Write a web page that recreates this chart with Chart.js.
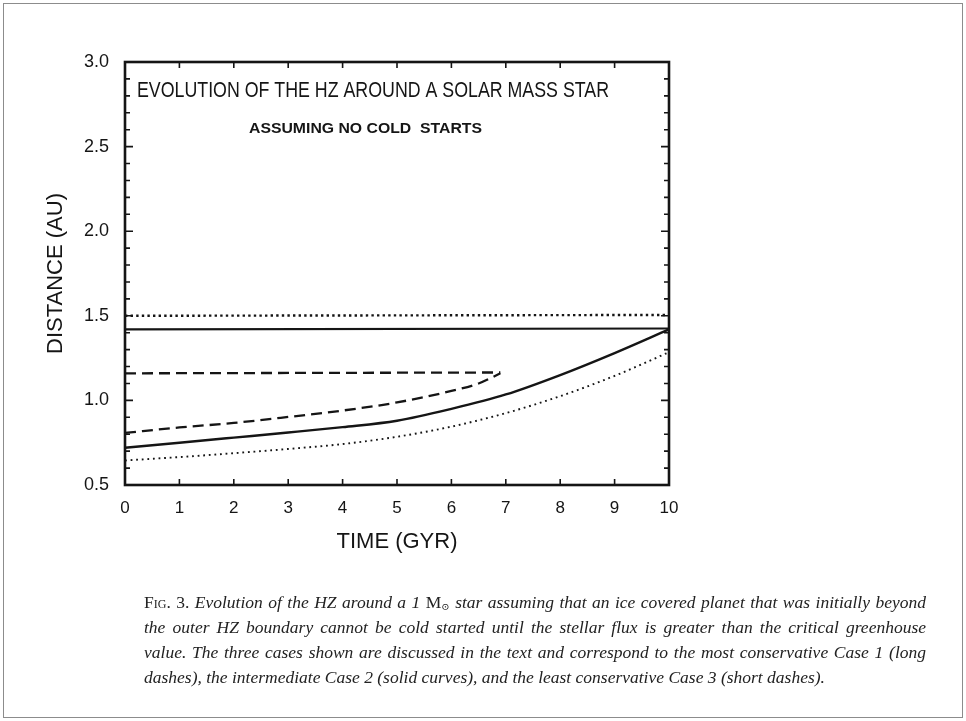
<!DOCTYPE html>
<html>
<head>
<meta charset="utf-8">
<script src="https://cdn.jsdelivr.net/npm/chart.js@4/dist/chart.umd.min.js"></script>
<style>
  html, body { margin: 0; padding: 0; background: #fff; }
  #wrap { position: relative; width: 966px; height: 721px; overflow: hidden; background: #fff; }
  #frame { position: absolute; left: 3px; top: 3px; width: 960px; height: 715px; border: 1.5px solid #8c8c8c; box-sizing: border-box; }
  #plot { position: absolute; left: 0; top: 0; }
  .cap { position: absolute; left: 144px; white-space: nowrap; font-family: "Liberation Serif", "DejaVu Serif", serif;
         font-style: italic; font-size: 17.5px; line-height: 25px; color: #222; transform-origin: 0 50%; }
  .cap .fig { font-style: normal; font-variant: small-caps; }
  .cap .rm { font-style: normal; }
  .cap sub { font-size: 10px; font-style: normal; vertical-align: -2px; }
</style>
</head>
<body>
<div id="wrap">
  <div id="frame"></div>
  <canvas id="plot" width="966" height="721"></canvas>
  <div class="cap" id="cap1" style="top:590px"><span class="fig">Fig. 3.</span> Evolution of the HZ around a 1 <span class="rm">M</span><sub>⊙</sub> star assuming that an ice covered planet that was initially beyond</div>
  <div class="cap" id="cap2" style="top:615px">the outer HZ boundary cannot be cold started until the stellar flux is greater than the critical greenhouse</div>
  <div class="cap" id="cap3" style="top:640px">value. The three cases shown are discussed in the text and correspond to the most conservative Case 1 (long</div>
  <div class="cap" id="cap4" style="top:665px">dashes), the intermediate Case 2 (solid curves), and the least conservative Case 3 (short dashes).</div>
</div>
<script>
// Time axis (Gyr) and HZ boundary distances (AU)
const timeGyr = [0, 1, 2, 3, 4, 5, 6, 7, 8, 9, 10];
const xTickValues = [0, 1, 2, 3, 4, 5, 6, 7, 8, 9, 10];
const yTickValues = [0.5, 1.0, 1.5, 2.0, 2.5, 3.0];

// Case 1 (long dashes): inner edge rises until it meets the outer edge near 6.9 Gyr
const case1Time = [0, 1, 2, 3, 4, 5, 6, 6.5, 6.9];
const case1Inner = [0.808, 0.840, 0.867, 0.902, 0.940, 0.988, 1.056, 1.100, 1.160];
const case1OuterTime = [0, 6.9];
const case1Outer = [1.160, 1.165];

// Case 2 (solid curves)
const case2Inner = [0.720, 0.750, 0.780, 0.810, 0.842, 0.880, 0.950, 1.035, 1.150, 1.280, 1.420];
const case2OuterTime = [0, 10];
const case2Outer = [1.420, 1.425];

// Case 3 (short dashes)
const case3Inner = [0.645, 0.665, 0.688, 0.713, 0.742, 0.785, 0.845, 0.925, 1.025, 1.145, 1.285];
const case3OuterTime = [0, 10];
const case3Outer = [1.500, 1.505];

const plotTitle = 'EVOLUTION OF THE HZ AROUND A SOLAR MASS STAR';
const plotSubtitle = 'ASSUMING NO COLD  STARTS';

const pts = (xs, ys) => xs.map((x, i) => ({ x: x, y: ys[i] }));
const INK = '#151515';
const LONG_DASH = [11, 6];

function line(label, data, dash, width, smooth) {
  return {
    label: label, data: data, borderColor: INK, borderWidth: width, borderDash: dash,
    pointRadius: 0, fill: false, cubicInterpolationMode: smooth ? 'monotone' : 'default',
    tension: 0, clip: 4
  };
}

function fitText(ctx, text, cx, cy, width, font) {
  ctx.save();
  ctx.font = font;
  const w = ctx.measureText(text).width;
  ctx.translate(cx, cy);
  ctx.scale(width / w, 1);
  ctx.textAlign = 'center';
  ctx.textBaseline = 'middle';
  ctx.fillStyle = INK;
  ctx.fillText(text, 0, 0);
  ctx.restore();
}

// Box frame, inward tick marks on all four sides, and the in-plot headings
const framePlugin = {
  id: 'frameTicks',
  afterDatasetsDraw(chart) {
    const { ctx, chartArea: a, scales: { x, y } } = chart;
    ctx.save();
    ctx.strokeStyle = INK;
    ctx.lineWidth = 1.6;
    ctx.beginPath();
    for (let k = 5; k <= 30; k++) {
      const py = y.getPixelForValue(k / 10);
      const len = (k % 5 === 0) ? 8 : 5;
      ctx.moveTo(a.left, py); ctx.lineTo(a.left + len, py);
      ctx.moveTo(a.right, py); ctx.lineTo(a.right - len, py);
    }
    xTickValues.forEach(v => {
      const px = x.getPixelForValue(v);
      ctx.moveTo(px, a.bottom); ctx.lineTo(px, a.bottom - 6);
      ctx.moveTo(px, a.top); ctx.lineTo(px, a.top + 6);
    });
    ctx.stroke();
    ctx.lineWidth = 2.6;
    ctx.strokeRect(a.left, a.top, a.right - a.left, a.bottom - a.top);
    ctx.restore();

    fitText(ctx, plotTitle, 373, 91, 472, '22px "Liberation Sans", Arial, sans-serif');
    fitText(ctx, plotSubtitle, 365.5, 129, 233, 'bold 15px "Liberation Sans", Arial, sans-serif');
  }
};

const AXIS_FONT = '"Liberation Sans", Arial, sans-serif';

new Chart(document.getElementById('plot'), {
  type: 'line',
  data: {
    datasets: [
      line('Case 3 outer', pts(case3OuterTime, case3Outer), [2.4, 3.2], 2.4, false),
      line('Case 2 outer', pts(case2OuterTime, case2Outer), [], 2.2, false),
      line('Case 1 outer', pts(case1OuterTime, case1Outer), LONG_DASH, 2.3, false),
      line('Case 1 inner', pts(case1Time, case1Inner), LONG_DASH, 2.3, true),
      line('Case 2 inner', pts(timeGyr, case2Inner), [], 2.4, true),
      line('Case 3 inner', pts(timeGyr, case3Inner), [1.8, 3.8], 1.9, true)
    ]
  },
  options: {
    responsive: false,
    animation: false,
    events: [],
    layout: { padding: { left: 0, top: 62, right: 297, bottom: 156 } },
    plugins: { legend: { display: false }, tooltip: { enabled: false }, title: { display: false } },
    scales: {
      x: {
        type: 'linear', min: 0, max: 10,
        afterFit(s) { s.height = 80; },
        afterBuildTicks(s) { s.ticks = xTickValues.map(v => ({ value: v })); },
        grid: { display: false }, border: { display: false },
        ticks: { color: INK, padding: 5, maxRotation: 0, font: { family: AXIS_FONT, size: 17 },
                 callback: v => String(v) },
        title: { display: true, text: 'TIME (GYR)', color: INK,
                 font: { family: AXIS_FONT, size: 22 }, padding: { top: 0, bottom: 10 } }
      },
      y: {
        type: 'linear', min: 0.5, max: 3.0,
        afterFit(s) { s.width = 125; },
        afterBuildTicks(s) { s.ticks = yTickValues.map(v => ({ value: v })); },
        grid: { display: false }, border: { display: false },
        ticks: { color: INK, padding: 8, font: { family: AXIS_FONT, size: 18 },
                 callback: v => Number(v).toFixed(1) },
        title: { display: true, text: 'DISTANCE (AU)', color: INK,
                 font: { family: AXIS_FONT, size: 22 }, padding: { top: 43, bottom: 0 } }
      }
    }
  },
  plugins: [framePlugin]
});

// Caption: justify the first three lines to a common right edge
function layoutCaption() {
  const target = 926 - 144;
  const ids = ['cap1', 'cap2', 'cap3', 'cap4'];
  const els = ids.map(id => document.getElementById(id));
  const widths = els.map(e => e.getBoundingClientRect().width);
  const maxW = Math.max(widths[0], widths[1], widths[2]);
  const s = Math.min(1, target / maxW);
  els.forEach((e, i) => {
    if (i < 3) {
      const natural = widths[i] * s;
      const gaps = (e.textContent.match(/ /g) || []).length;
      const extra = gaps ? (target - natural) / s / gaps : 0;
      e.style.wordSpacing = extra.toFixed(2) + 'px';
    }
    e.style.transform = 'scaleX(' + s.toFixed(4) + ')';
  });
}
if (document.fonts && document.fonts.ready) { document.fonts.ready.then(layoutCaption); } else { layoutCaption(); }
</script>
</body>
</html>
